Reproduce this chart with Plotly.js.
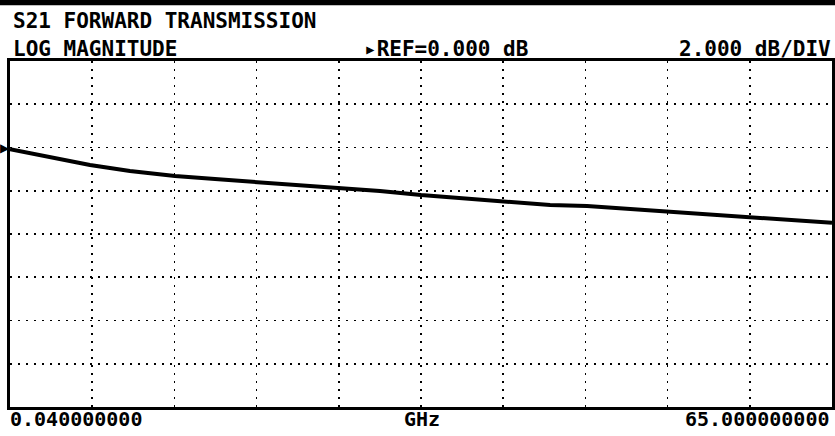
<!DOCTYPE html>
<html><head><meta charset="utf-8">
<script src="https://cdn.plot.ly/plotly-3.0.1.min.js"></script>
<style>html,body{margin:0;padding:0;background:#fff}#chart{width:835px;height:436px}</style>
</head><body><div id="chart"></div>
<script>
// Frequency (GHz) and S21 log magnitude (dB)
const freqGHz = [0.04, 3.20, 6.36, 9.52, 13.08, 16.24, 19.56, 22.96, 25.88, 29.28, 32.52, 35.60, 39.00, 42.72, 45.64, 49.04, 52.04, 55.36, 58.52, 61.68, 65.00];
const s21dB   = [-0.08, -0.44, -0.81, -1.09, -1.32, -1.46, -1.60, -1.74, -1.87, -2.01, -2.20, -2.34, -2.52, -2.66, -2.71, -2.85, -2.97, -3.10, -3.22, -3.36, -3.48];

const title1 = "S21 FORWARD TRANSMISSION";
const title2 = "LOG MAGNITUDE";
const refText = "▸REF=0.000 dB";
const scaleText = "2.000 dB/DIV";
const startText = "0.040000000";
const unitText = "GHz";
const stopText = "65.000000000";

const fstart = 0.04, fstop = 65.0;
const refLevel = 0, dbPerDiv = 2;
const topDb = 4, botDb = -12;

const fontTop = {family: "DejaVu Sans Mono", size: 21, color: "#000"};
const fontBot = {family: "DejaVu Sans Mono", size: 20, color: "#000"};
const ann = (text, x, y, xanchor, f) => ({text: "<b>" + text + "</b>", x: x, y: y, xref: "paper", yref: "paper",
  xanchor: xanchor, yanchor: "middle", showarrow: false, font: f});

const data = [{
  x: freqGHz, y: s21dB, type: "scatter", mode: "lines",
  line: {color: "#000", width: 4}, hoverinfo: "skip"
}];

const axisCommon = {
  showticklabels: false, ticks: "", zeroline: false,
  showgrid: true, gridcolor: "#000", gridwidth: 1.6, griddash: "2px,6px",
  showline: true, linecolor: "#000", linewidth: 3, mirror: true
};

const layout = {
  width: 835, height: 436,
  margin: {l: 10, r: 3, t: 61, b: 29},
  paper_bgcolor: "#fff", plot_bgcolor: "#fff",
  showlegend: false,
  xaxis: Object.assign({}, axisCommon, {range: [fstart, fstop], tick0: fstart, dtick: (fstop - fstart) / 10}),
  yaxis: Object.assign({}, axisCommon, {range: [botDb, topDb], tick0: refLevel, dtick: dbPerDiv}),
  shapes: [
    {type: "rect", xref: "paper", yref: "paper", x0: -0.02, x1: 1.01, y0: 1.161, y1: 1.19, fillcolor: "#000", line: {width: 0}}
  ],
  annotations: [
    ann(title1, 0.0015, 1.117, "left", fontTop),
    ann(title2, 0.0015, 1.034, "left", fontTop),
    ann(refText, 0.428, 1.034, "left", fontTop),
    ann(scaleText, 1.0012, 1.034, "right", fontTop),
    ann(startText, -0.002, -0.036, "left", fontBot),
    ann(unitText, 0.501, -0.036, "center", fontBot),
    ann(stopText, 1.0, -0.036, "right", fontBot),
    {text: "▶", x: 0, y: refLevel, xref: "paper", yref: "y", xanchor: "right", yanchor: "middle",
     showarrow: false, xshift: 2, font: {family: "DejaVu Sans", size: 12, color: "#000"}}
  ]
};

Plotly.newPlot("chart", data, layout, {staticPlot: true, displayModeBar: false});
</script>
</body></html>
